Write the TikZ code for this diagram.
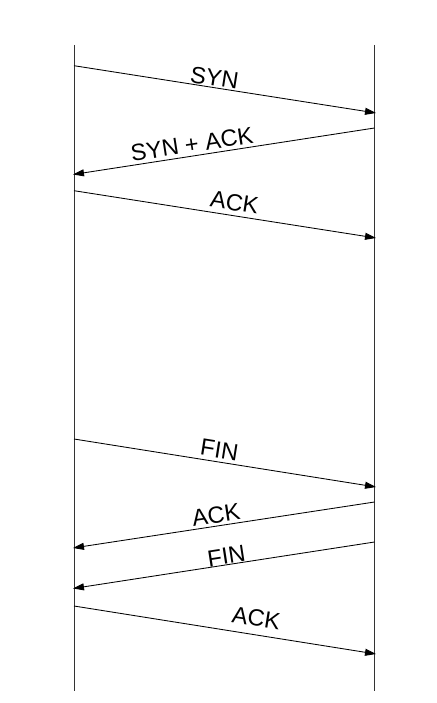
\documentclass[tikz,border=0pt]{standalone}
\usepackage{fontspec}
\setmainfont{Liberation Sans}
\usetikzlibrary{arrows.meta}
\begin{document}
\begin{tikzpicture}[x=1pt,y=-1pt,
  life/.style={draw=black!80,line width=0.9pt},
  msg/.style={draw=black,line width=0.85pt,-{Triangle[length=11pt,width=7pt]}},
  lbl/.style={sloped,inner sep=0pt,font=\fontsize{23.5}{24}\selectfont,text=black}]
\useasboundingbox (0,0) rectangle (436,703);
% lifelines
\coordinate (lt) at (74,45);   \coordinate (lb) at (74,691);
\coordinate (rt) at (374.5,45); \coordinate (rb) at (374.5,691);
\draw[life] (lt) -- (lb);
\draw[life] (rt) -- (rb);
% message end points
\coordinate (a1) at (74,65.7);   \coordinate (b1) at (376,113);
\coordinate (b2) at (374.5,128); \coordinate (a2) at (73,174.5);
\coordinate (a3) at (74,190.7);  \coordinate (b3) at (376,238);
\coordinate (a4) at (74,439);    \coordinate (b4) at (376,487);
\coordinate (b5) at (374.5,502); \coordinate (a5) at (73,548);
\coordinate (b6) at (374.5,542); \coordinate (a6) at (73,588.5);
\coordinate (a7) at (74,606);    \coordinate (b7) at (376,654);
% messages
\draw[msg] (a1) -- node[lbl,pos=0.46,above=1pt] {SYN} (b1);
\draw[msg] (b2) -- node[lbl,pos=0.6,above=3pt] {SYN + ACK} (a2);
\draw[msg] (a3) -- node[lbl,pos=0.525,above=4.5pt] {ACK} (b3);
\draw[msg] (a4) -- node[lbl,pos=0.475,above=3.5pt] {FIN} (b4);
\draw[msg] (b5) -- node[lbl,pos=0.52,above=2.5pt] {ACK} (a5);
\draw[msg] (b6) -- node[lbl,pos=0.487,above=0pt] {FIN} (a6);
\draw[msg] (a7) -- node[lbl,pos=0.595,above=8pt] {ACK} (b7);
\end{tikzpicture}
\end{document}
